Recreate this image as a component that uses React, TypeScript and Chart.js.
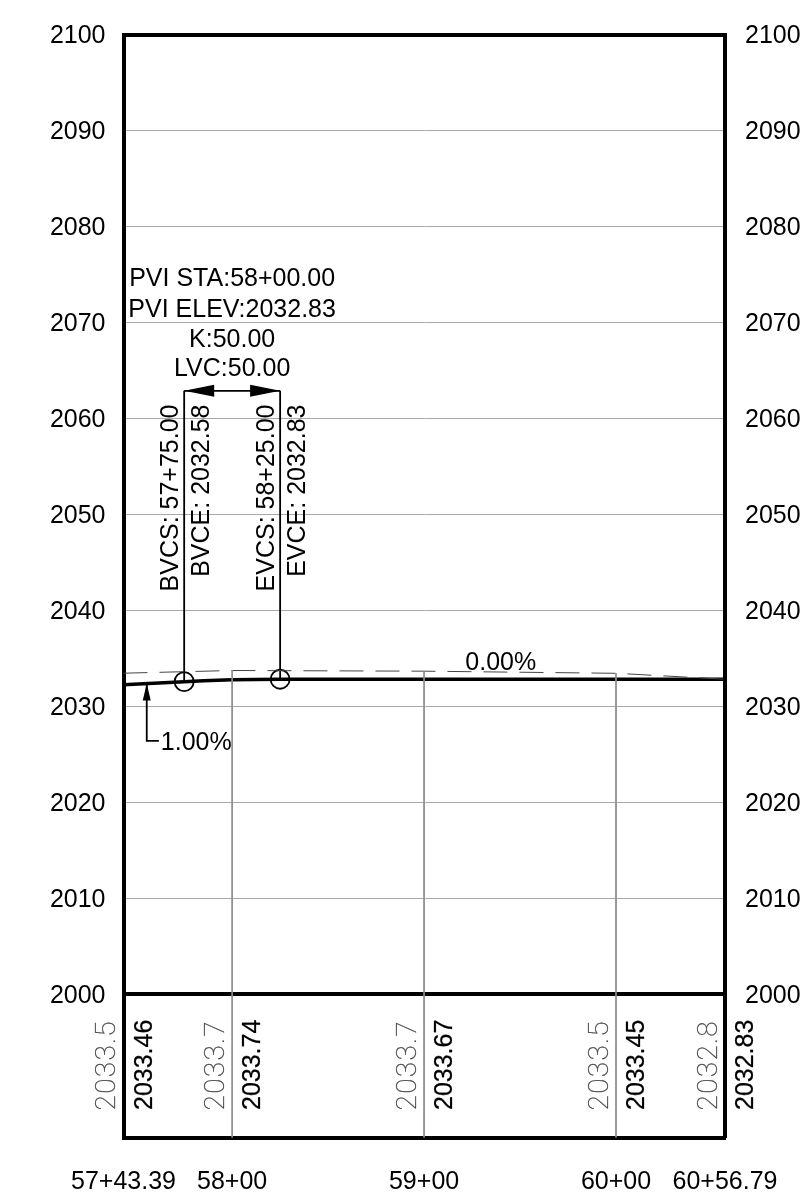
import React, { useEffect, useRef } from "react";
import { Chart, registerables } from "chart.js";

Chart.register(...registerables);

const FONT = '"Liberation Sans", Arial, sans-serif';
const stationMin = 5743.39;
const stationMax = 6056.79;
const stationTicks = [5743.39, 5800, 5900, 6000, 6056.79];
const stationLabels = ["57+43.39", "58+00", "59+00", "60+00", "60+56.79"];
const elevationTicks = [2000, 2010, 2020, 2030, 2040, 2050, 2060, 2070, 2080, 2090, 2100];
const tableBottom = 1985.05;

const designStations = [5743.39, 5775, 5785, 5800, 5812, 5825, 6056.79];
const designElevations = [2032.26, 2032.58, 2032.67, 2032.77, 2032.81, 2032.83, 2032.83];

const groundStations = [5743.39, 5800, 5900, 6000, 6056.79];
const groundElevations = [2033.46, 2033.74, 2033.67, 2033.45, 2032.83];
const groundShort = ["2033.5", "2033.7", "2033.7", "2033.5", "2032.8"];
const designRow = ["2033.46", "2033.74", "2033.67", "2033.45", "2032.83"];

const curveStations = [5775, 5825];
const curveElevations = [2032.58, 2032.83];
const dimElevation = 2062.9;
const pviStation = 5800;

const pviLabels = ["PVI STA:58+00.00", "PVI ELEV:2032.83", "K:50.00", "LVC:50.00"];
const pviLabelY = [2073.85, 2070.6, 2067.5, 2064.4];
const curveLabels = [
  ["BVCS: 57+75.00", "BVCE: 2032.58"],
  ["EVCS: 58+25.00", "EVCE: 2032.83"],
];

const leaderStations = [5755.5, 5755.5, 5761.8];
const leaderElevations = [2032.38, 2026.4, 2026.4];

const annotationPlugin = {
  id: "profileAnnotations",
  afterDatasetsDraw(chart: any) {
    const { ctx } = chart;
    const x = chart.scales.x;
    const y = chart.scales.y;
    const px = (v: number) => x.getPixelForValue(v);
    const py = (v: number) => y.getPixelForValue(v);
    const size = 25;
    ctx.save();
    ctx.fillStyle = "#000";
    ctx.font = `${size}px ${FONT}`;
    ctx.textBaseline = "alphabetic";

    // PVI block
    ctx.textAlign = "center";
    pviLabels.forEach((t, i) => ctx.fillText(t, px(pviStation), py(pviLabelY[i])));

    // Grade labels
    ctx.textAlign = "left";
    ctx.fillText("1.00%", px(leaderStations[2]) + 2, py(2025.4));
    ctx.fillText("0.00%", px(5921.5), py(2033.8));

    // Rotated BVC / EVC labels
    const rotated = (t: string, bx: number, endY: number, align: CanvasTextAlign) => {
      ctx.save();
      ctx.translate(bx, endY);
      ctx.rotate(-Math.PI / 2);
      ctx.textAlign = align;
      ctx.fillText(t, 0, 0);
      ctx.restore();
    };
    curveStations.forEach((s, i) => {
      rotated(curveLabels[i][0], px(s) - 6, 404.5, "right");
      rotated(curveLabels[i][1], px(s) + 24.5, 404.5, "right");
    });

    // Arrow heads on dimension line
    const ay = py(dimElevation);
    const tri = (tipX: number, baseX: number, tipY: number, baseY: number, horizontal: boolean, half: number) => {
      ctx.beginPath();
      if (horizontal) {
        ctx.moveTo(tipX, tipY);
        ctx.lineTo(baseX, baseY - half);
        ctx.lineTo(baseX, baseY + half);
      } else {
        ctx.moveTo(tipX, tipY);
        ctx.lineTo(tipX - half, baseY);
        ctx.lineTo(tipX + half, baseY);
      }
      ctx.closePath();
      ctx.fill();
    };
    tri(px(curveStations[0]), px(curveStations[0]) + 30, ay, ay, true, 6);
    tri(px(curveStations[1]), px(curveStations[1]) - 30, ay, ay, true, 6);
    tri(px(leaderStations[0]), 0, py(leaderElevations[0]), py(leaderElevations[0]) + 17, false, 4);

    // Table rows
    groundStations.forEach((s, i) => {
      ctx.font = `${size}px ${FONT}`;
      ctx.fillStyle = "#000";
      ctx.strokeStyle = "#000";
      ctx.lineWidth = 0.25;
      ctx.save();
      ctx.translate(px(s) + 28, 1110);
      ctx.rotate(-Math.PI / 2);
      ctx.textAlign = "left";
      ctx.fillText(designRow[i], 0, 0);
      ctx.strokeText(designRow[i], 0, 0);
      ctx.restore();

      ctx.save();
      ctx.translate(px(s) - 8.5, 1110.5);
      ctx.rotate(-Math.PI / 2);
      ctx.textAlign = "left";
      ctx.font = `100 28px Roboto, ${FONT}`;
      (ctx as any).letterSpacing = "1.3px";
      ctx.fillStyle = "#333";
      ctx.strokeStyle = "#555";
      ctx.lineWidth = 0.3;
      ctx.fillText(groundShort[i], 0, 0);
      ctx.strokeText(groundShort[i], 0, 0);
      ctx.restore();
    });
    ctx.restore();
  },
};

const toPoints = (xs: number[], ys: number[]) => xs.map((x, i) => ({ x, y: ys[i] }));
const lineDefaults = { showLine: true, pointRadius: 0, tension: 0, fill: false, clip: false as any };

export default function App() {
  const ref = useRef<HTMLCanvasElement>(null);
  useEffect(() => {
    const verticals = groundStations.slice(1, 4).map((s) => {
      const g = groundElevations[groundStations.indexOf(s)];
      return {
        ...lineDefaults,
        data: toPoints([s, s], [g, tableBottom]),
        borderColor: "#8c8c8c",
        borderWidth: 1,
      };
    });
    const chart = new Chart(ref.current!, {
      type: "scatter",
      data: {
        datasets: [
          ...verticals,
          {
            ...lineDefaults,
            data: toPoints(groundStations, groundElevations),
            borderColor: "#444",
            borderWidth: 1,
            borderDash: [24, 12],
          },
          {
            ...lineDefaults,
            data: toPoints(designStations, designElevations),
            borderColor: "#000",
            borderWidth: 3.5,
          },
          ...curveStations.map((s, i) => ({
            ...lineDefaults,
            data: toPoints([s, s], [curveElevations[i], dimElevation]),
            borderColor: "#000",
            borderWidth: 1.8,
          })),
          {
            ...lineDefaults,
            data: toPoints(curveStations, [dimElevation, dimElevation]),
            borderColor: "#000",
            borderWidth: 1.8,
          },
          {
            ...lineDefaults,
            data: toPoints(leaderStations, leaderElevations),
            borderColor: "#000",
            borderWidth: 1.8,
          },
          {
            data: toPoints(curveStations, curveElevations),
            showLine: false,
            pointRadius: 9.5,
            pointBorderWidth: 1.8,
            pointBorderColor: "#000",
            pointBackgroundColor: "rgba(0,0,0,0)",
            clip: false as any,
          },
        ] as any,
      },
      options: {
        responsive: false,
        animation: false,
        devicePixelRatio: 1,
        layout: { padding: { top: 34, left: 0, right: 0, bottom: 0 } },
        plugins: { legend: { display: false }, tooltip: { enabled: false } },
        scales: {
          x: {
            type: "linear",
            min: stationMin,
            max: stationMax,
            afterFit: (s: any) => { s.height = 60.5; s.paddingLeft = 0; s.paddingRight = 0; },
            afterBuildTicks: (s: any) => { s.ticks = stationTicks.map((value) => ({ value })); },
            grid: { display: false, drawTicks: false },
            border: { display: true, color: "#000", width: 4 },
            ticks: {
              autoSkip: false,
              maxRotation: 0,
              minRotation: 0,
              padding: 30,
              color: "#000",
              font: { family: "Liberation Sans", size: 25 },
              callback: (v: any) => stationLabels[stationTicks.indexOf(Number(v))],
            },
          },
          y: {
            type: "linear",
            min: tableBottom,
            max: 2100,
            afterFit: (s: any) => { s.width = 123.5; },
            afterBuildTicks: (s: any) => { s.ticks = elevationTicks.map((value) => ({ value })); },
            grid: {
              drawTicks: false,
              color: (c: any) => (c.tick && (c.tick.value === 2000 || c.tick.value === 2100) ? "#000" : "#a8a8a8"),
              lineWidth: (c: any) => (c.tick && (c.tick.value === 2000 || c.tick.value === 2100) ? 4 : 1),
            },
            border: { display: true, color: "#000", width: 4 },
            ticks: {
              autoSkip: false,
              padding: 18,
              labelOffset: 1.5,
              color: "#000",
              font: { family: "Liberation Sans", size: 25 },
              callback: (v: any) => String(v),
            },
          },
          y2: {
            type: "linear",
            position: "right",
            min: tableBottom,
            max: 2100,
            afterFit: (s: any) => { s.width = 77; },
            afterBuildTicks: (s: any) => { s.ticks = elevationTicks.map((value) => ({ value })); },
            grid: { display: false, drawTicks: false },
            border: { display: true, color: "#000", width: 4 },
            ticks: {
              autoSkip: false,
              padding: 20,
              labelOffset: 1.5,
              color: "#000",
              font: { family: "Liberation Sans", size: 25 },
              callback: (v: any) => String(v),
            },
          },
        },
      } as any,
      plugins: [annotationPlugin],
    });
    return () => chart.destroy();
  }, []);
  return (
    <div style={{ position: "absolute", left: 0, top: 0, width: 802, height: 1198, background: "#fff" }}>
      <canvas ref={ref} width={802} height={1198} style={{ display: "block" }} />
    </div>
  );
}
